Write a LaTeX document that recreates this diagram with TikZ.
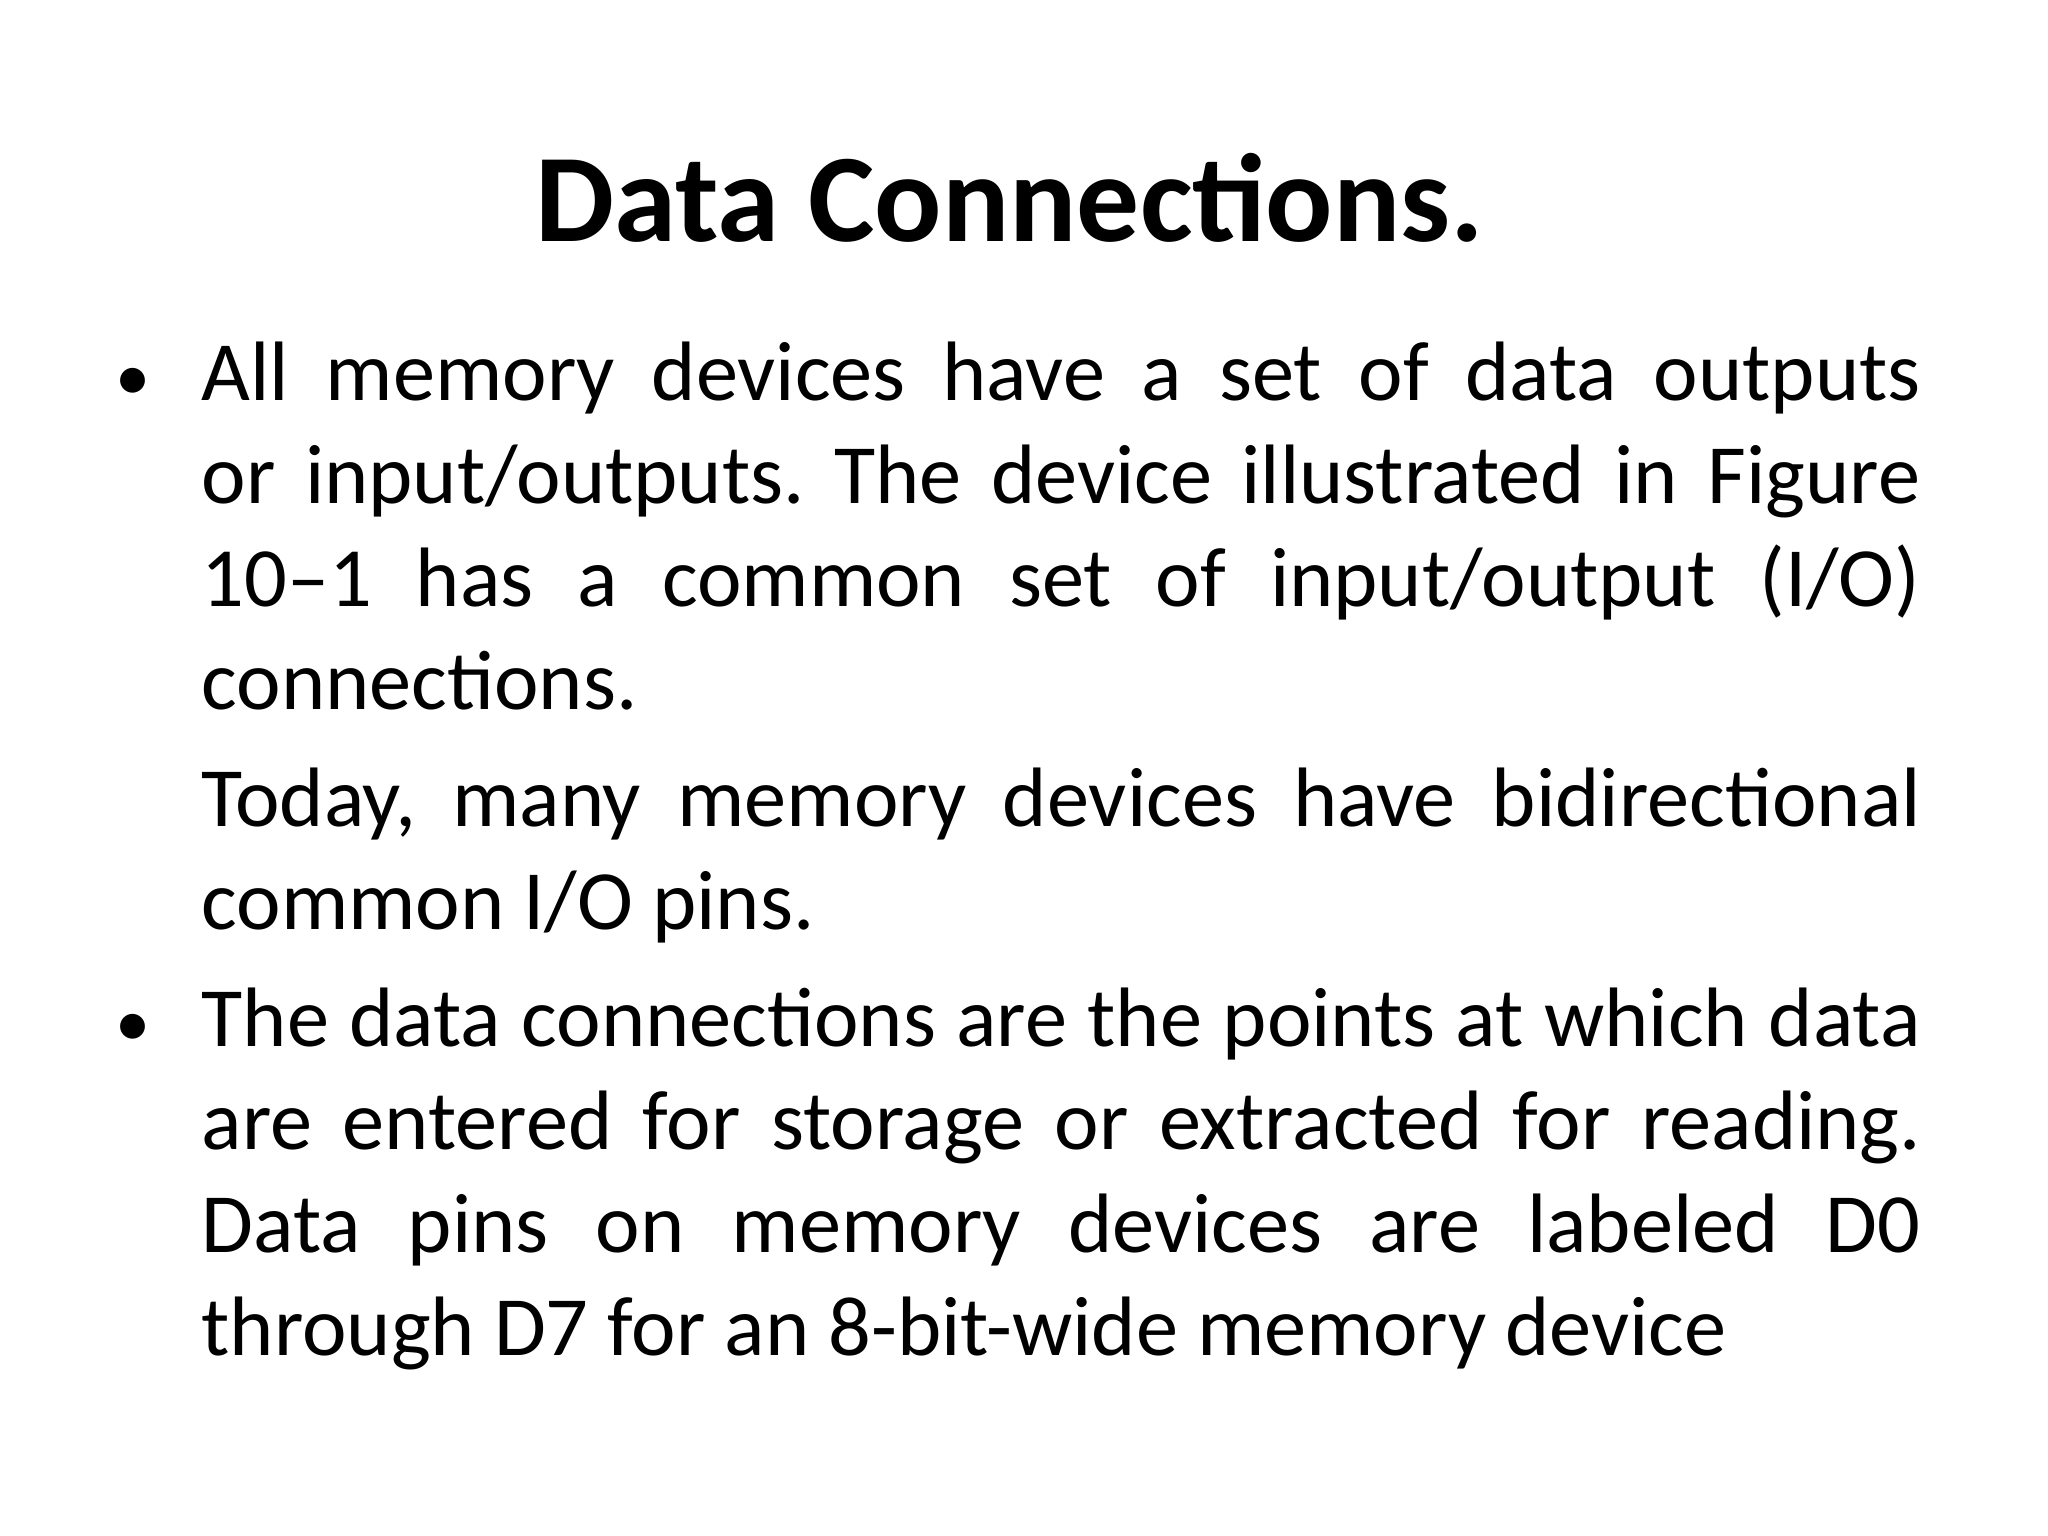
\documentclass[tikz,border=0pt]{standalone}
\usepackage{fontspec}
\setmainfont{Carlito}
\begin{document}
\begin{tikzpicture}
\useasboundingbox (0,0) rectangle (20.48,15.36);
\tikzset{bodytext/.style={anchor=north west,inner sep=0pt,text width=17.19cm,align=justify,font=\fontsize{24}{29.3}\selectfont}}
\newcommand{\mybul}{\leavevmode\llap{\makebox[0.86cm][l]{\fontsize{20}{20}\selectfont•}}}
\node[font=\bfseries\fontsize{35.7}{40}\selectfont,anchor=base] (title) at (10.1,12.94) {Data Connections.};
\node[bodytext] (body) at (2.01,11.95) {%
\frenchspacing\hyphenpenalty=10000\exhyphenpenalty=10000\setlength{\parskip}{0.14cm}%
\mybul All memory devices have a set of data outputs or input/outputs. The device illustrated in Figure 10–\allowbreak 1 has a common set of input/output (I/O) connections.\par
Today, many memory devices have bidirectional common I/O pins.\par
\mybul The data connections are the points at which data are entered for storage or extracted for reading. Data pins on memory devices are labeled D0 through D7 for an 8-bit-wide memory device\par};
\end{tikzpicture}
\end{document}
